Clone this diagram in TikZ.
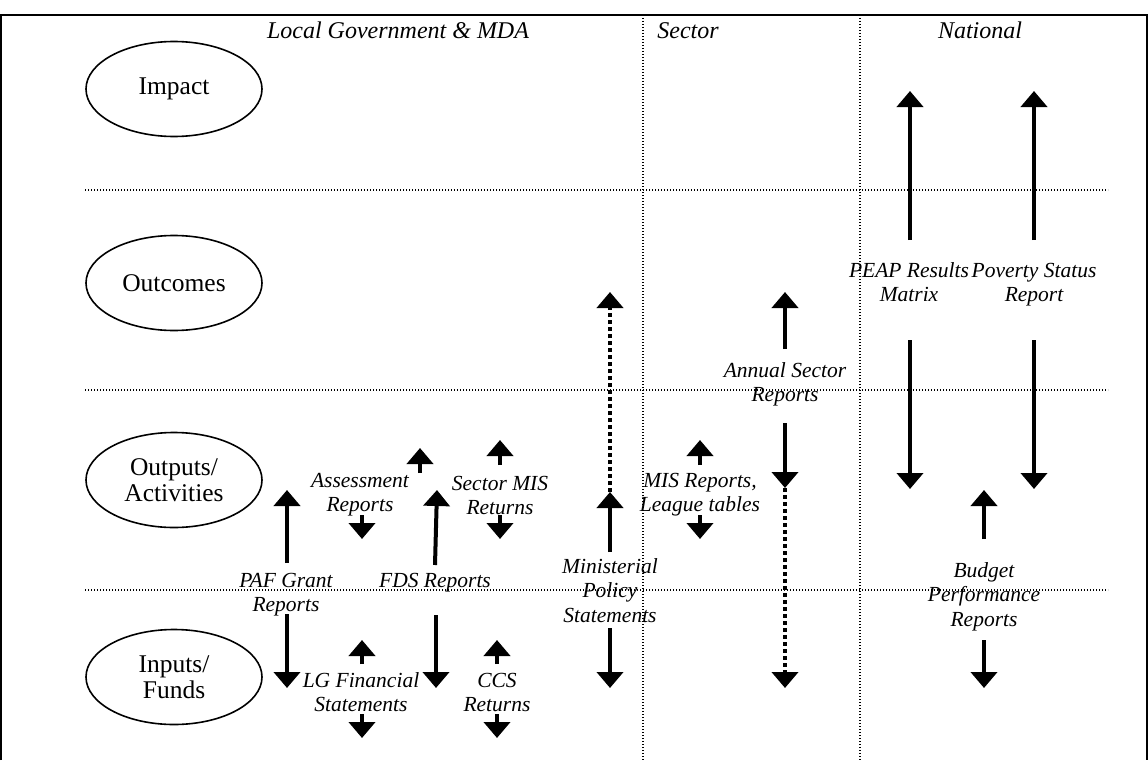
\documentclass[tikz,border=0pt]{standalone}
\usepackage{fontspec}
\setmainfont{Liberation Serif}
\usetikzlibrary{arrows.meta,shapes.geometric}
\begin{document}
\begin{tikzpicture}[x=1pt,y=-1pt,
  lbl/.style={font=\fontsize{21.5}{24.5}\selectfont\itshape, anchor=base, inner sep=0pt},
  hdr/.style={font=\fontsize{24}{25}\selectfont\itshape, anchor=base, inner sep=0pt},
  lvl/.style={ellipse, draw, line width=1.6pt, minimum width=176pt, minimum height=95pt,
              font=\fontsize{25.5}{26}\selectfont, align=center, inner sep=0pt},
  frame/.style={line width=2pt},
  gridline/.style={line width=1.4pt, dash pattern=on 1.4pt off 1.6pt},
  bigarrow/.style={line width=4pt, -{Triangle[width=26pt,length=16pt]}},
  dotarrow/.style={bigarrow, dash pattern=on 4pt off 3pt},
]
\useasboundingbox (0,0) rectangle (1148,760);

% frame
\coordinate (fTL) at (1,15); \coordinate (fTR) at (1147,15);
\coordinate (fBL) at (1,760); \coordinate (fBR) at (1147,760);
\draw[frame] (fBL) -- (fTL) -- (fTR) -- (fBR);

% grid
\coordinate (g1l) at (85,190); \coordinate (g1r) at (1108,190);
\coordinate (g2l) at (85,390); \coordinate (g2r) at (1108,390);
\coordinate (g3l) at (85,590); \coordinate (g3r) at (1108,590);
\coordinate (v1t) at (643,15); \coordinate (v1b) at (643,760);
\coordinate (v2t) at (860,15); \coordinate (v2b) at (860,760);
\draw[gridline] (g1l) -- (g1r);
\draw[gridline] (g2l) -- (g2r);
\draw[gridline] (g3l) -- (g3r);
\draw[gridline] (v1t) -- (v1b);
\draw[gridline] (v2t) -- (v2b);

% headers
\node[hdr] (hLG) at (398,38) {Local Government \& MDA};
\node[hdr] (hS) at (688,38) {Sector};
\node[hdr] (hN) at (980,38) {National};

% levels
\node[lvl] (impact) at (174,89) {Impact};
\node[lvl] (outcomes) at (174,283) {Outcomes};
\node[lvl] (outputs) at (174,480) {Outputs/\\Activities};
\node[lvl] (inputs) at (174,677) {Inputs/\\Funds};

% labels
\node[lbl] (paf) at (286,587) {\begin{tabular}[t]{@{}c@{}}PAF Grant\\Reports\end{tabular}};
\node[lbl] (assess) at (360,487) {\begin{tabular}[t]{@{}c@{}}Assessment\\Reports\end{tabular}};
\node[lbl] (secmis) at (500,490) {\begin{tabular}[t]{@{}c@{}}Sector MIS\\Returns\end{tabular}};
\node[lbl] (fds) at (435,587) {FDS Reports};
\node[lbl] (lgfin) at (361,687) {\begin{tabular}[t]{@{}c@{}}LG Financial\\Statements\end{tabular}};
\node[lbl] (ccs) at (497,687) {\begin{tabular}[t]{@{}c@{}}CCS\\Returns\end{tabular}};
\node[lbl] (minist) at (610,573) {\begin{tabular}[t]{@{}c@{}}Ministerial\\Policy\\Statements\end{tabular}};
\node[lbl] (misrep) at (700,487) {\begin{tabular}[t]{@{}c@{}}MIS Reports,\\League tables\end{tabular}};
\node[lbl] (annual) at (785,377) {\begin{tabular}[t]{@{}c@{}}Annual Sector\\Reports\end{tabular}};
\node[lbl] (peap) at (909,277) {\begin{tabular}[t]{@{}c@{}}PEAP Results\\Matrix\end{tabular}};
\node[lbl] (poverty) at (1034,277) {\begin{tabular}[t]{@{}c@{}}Poverty Status\\Report\end{tabular}};
\node[lbl] (budget) at (984,577) {\begin{tabular}[t]{@{}c@{}}Budget\\Performance\\Reports\end{tabular}};

% arrow coordinates
\coordinate (pafU0) at (287,563); \coordinate (pafU1) at (287,490);
\coordinate (pafD0) at (287,614); \coordinate (pafD1) at (287,688);
\coordinate (asU0) at (420,473); \coordinate (asU1) at (420,448);
\coordinate (asD0) at (362,515); \coordinate (asD1) at (362,539);
\coordinate (smU0) at (500,465); \coordinate (smU1) at (500,440);
\coordinate (smD0) at (500,515); \coordinate (smD1) at (500,539);
\coordinate (fdU0) at (435,565); \coordinate (fdU1) at (437,490);
\coordinate (fdD0) at (436,615); \coordinate (fdD1) at (436,688);
\coordinate (lgU0) at (362,664); \coordinate (lgU1) at (362,640);
\coordinate (lgD0) at (362,714); \coordinate (lgD1) at (362,738);
\coordinate (ccU0) at (497,664); \coordinate (ccU1) at (497,640);
\coordinate (ccD0) at (497,714); \coordinate (ccD1) at (497,738);
\coordinate (miU0) at (610,552); \coordinate (miU1) at (610,492);
\coordinate (miT) at (610,292);
\coordinate (miD0) at (610,628); \coordinate (miD1) at (610,688);
\coordinate (mrU0) at (700,465); \coordinate (mrU1) at (700,440);
\coordinate (mrD0) at (700,515); \coordinate (mrD1) at (700,539);
\coordinate (anU0) at (785,349); \coordinate (anU1) at (785,292);
\coordinate (anD0) at (785,423); \coordinate (anD1) at (785,488);
\coordinate (anB) at (785,688);
\coordinate (peU0) at (910,240); \coordinate (peU1) at (910,91);
\coordinate (peD0) at (910,340); \coordinate (peD1) at (910,489);
\coordinate (poU0) at (1034,240); \coordinate (poU1) at (1034,91);
\coordinate (poD0) at (1034,340); \coordinate (poD1) at (1034,489);
\coordinate (buU0) at (984,539); \coordinate (buU1) at (984,490);
\coordinate (buD0) at (984,640); \coordinate (buD1) at (984,688);

% arrows
\draw[bigarrow] (pafU0) -- (pafU1);
\draw[bigarrow] (pafD0) -- (pafD1);
\draw[bigarrow] (asU0) -- (asU1);
\draw[bigarrow] (asD0) -- (asD1);
\draw[bigarrow] (smU0) -- (smU1);
\draw[bigarrow] (smD0) -- (smD1);
\draw[bigarrow] (fdU0) -- (fdU1);
\draw[bigarrow] (fdD0) -- (fdD1);
\draw[bigarrow] (lgU0) -- (lgU1);
\draw[bigarrow] (lgD0) -- (lgD1);
\draw[bigarrow] (ccU0) -- (ccU1);
\draw[bigarrow] (ccD0) -- (ccD1);
\draw[bigarrow] (miU0) -- (miU1);
\draw[dotarrow] (miU1) -- (miT);
\draw[bigarrow] (miD0) -- (miD1);
\draw[bigarrow] (mrU0) -- (mrU1);
\draw[bigarrow] (mrD0) -- (mrD1);
\draw[bigarrow] (anU0) -- (anU1);
\draw[bigarrow] (anD0) -- (anD1);
\draw[dotarrow] (anD1) -- (anB);
\draw[bigarrow] (peU0) -- (peU1);
\draw[bigarrow] (peD0) -- (peD1);
\draw[bigarrow] (poU0) -- (poU1);
\draw[bigarrow] (poD0) -- (poD1);
\draw[bigarrow] (buU0) -- (buU1);
\draw[bigarrow] (buD0) -- (buD1);
\end{tikzpicture}
\end{document}
